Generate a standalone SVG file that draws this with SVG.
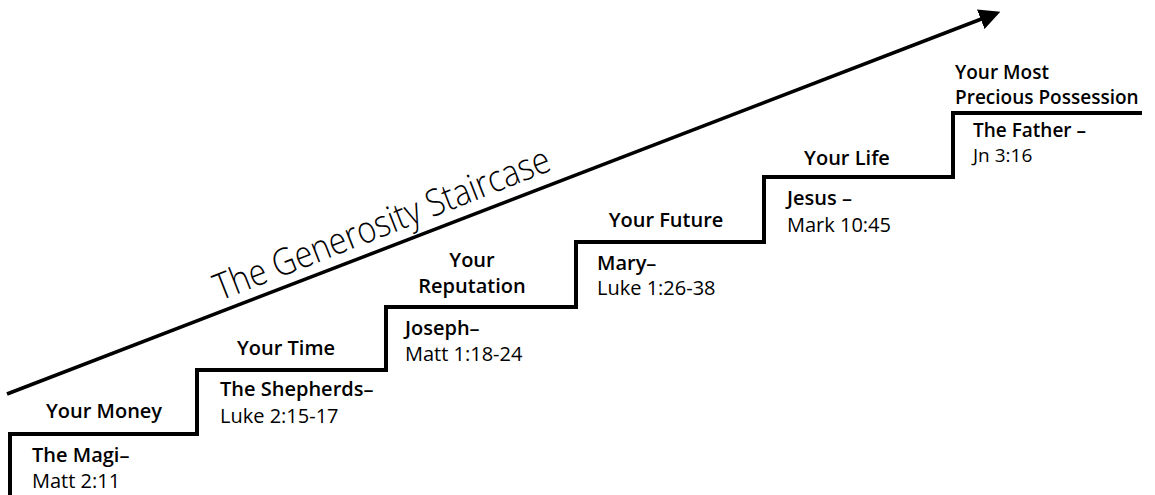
<svg xmlns="http://www.w3.org/2000/svg" width="1155" height="495" viewBox="0 0 1155 495">
<style>
.hdr{font-family:"Open Sans","Liberation Sans",sans-serif;font-weight:600;font-size:20px;fill:#000;text-anchor:middle}
.hdrl{font-family:"Open Sans","Liberation Sans",sans-serif;font-weight:600;font-size:19px;fill:#000}
.name{font-family:"Open Sans","Liberation Sans",sans-serif;font-weight:600;font-size:20px;fill:#000}
.ref{font-family:"Open Sans","Liberation Sans",sans-serif;font-weight:400;font-size:20px;fill:#000}
.sm{font-size:19px}
.title{font-family:"Open Sans","Liberation Sans",sans-serif;font-weight:300;font-size:37px;fill:#000}
.stair{fill:none;stroke:#000;stroke-width:4;stroke-linejoin:miter}
.arrow{fill:none;stroke:#000;stroke-width:3.5}
</style>
<defs>
<marker id="ah" markerWidth="6" markerHeight="6" refX="1" refY="3" orient="auto" markerUnits="strokeWidth" viewBox="0 0 6 6">
<path d="M0,0 L6,3 L0,6 Z" fill="#000"/>
</marker>
</defs>
<g id="connectors">
<path id="staircase" class="stair" d="M10,495 V434 H197 V370 H386 V307 H576 V242 H764 V177 H953 V113 H1142"/>
<line id="trend-arrow" class="arrow" x1="7" y1="394" x2="984" y2="18" marker-end="url(#ah)"/>
</g>
<g id="title">
<text class="title" transform="translate(220,301) rotate(-21.5)" textLength="358" lengthAdjust="spacingAndGlyphs">The Generosity Staircase</text>
</g>
<g id="step-money">
<text class="hdr" x="104" y="418">Your Money</text>
<text class="name" x="32" y="462">The Magi–</text>
<text class="ref" x="32" y="488">Matt 2:11</text>
</g>
<g id="step-time">
<text class="hdr" x="286" y="355">Your Time</text>
<text class="name" x="220" y="396">The Shepherds–</text>
<text class="ref" x="220" y="423">Luke 2:15-17</text>
</g>
<g id="step-reputation">
<text class="hdr" x="472" y="267">Your</text>
<text class="hdr" x="472" y="293">Reputation</text>
<text class="name" x="405" y="335">Joseph–</text>
<text class="ref" x="405" y="361">Matt 1:18-24</text>
</g>
<g id="step-future">
<text class="hdr" x="666" y="227">Your Future</text>
<text class="name" x="597" y="270">Mary–</text>
<text class="ref" x="597" y="295">Luke 1:26-38</text>
</g>
<g id="step-life">
<text class="hdr" x="847" y="165">Your Life</text>
<text class="name" x="787" y="205">Jesus –</text>
<text class="ref" x="787" y="232">Mark 10:45</text>
</g>
<g id="step-possession">
<text class="hdrl" x="955" y="79">Your Most</text>
<text class="hdrl" x="955" y="104">Precious Possession</text>
<text class="name sm" x="973" y="137">The Father –</text>
<text class="ref sm" x="973" y="162">Jn 3:16</text>
</g>
</svg>
